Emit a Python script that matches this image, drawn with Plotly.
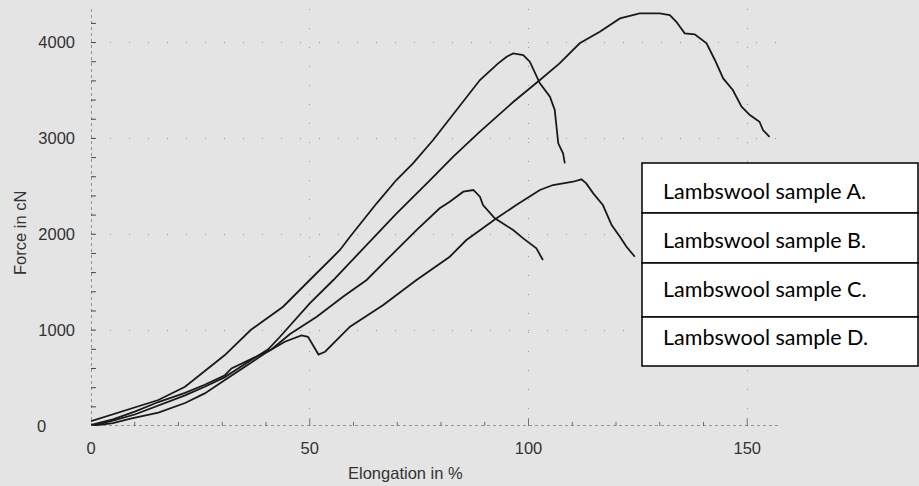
import plotly.graph_objects as go

# Force-elongation readings (elongation in %, force in cN)
a_elong = [0, 8.5, 15.4, 21.5, 25.3, 30.6, 36.5, 43.9, 50, 56.9, 59.2, 65.3, 69.8, 73.6, 78.2,
           83.5, 88.9, 93, 95, 96.5, 98.8, 100.3, 102.6, 104.9, 106, 106.4, 106.8, 107.9, 108.3]
a_force = [50, 174, 271, 410, 550, 740, 1001, 1244, 1523, 1836, 1974, 2323, 2566, 2740, 2983,
           3296, 3609, 3780, 3852, 3887, 3870, 3800, 3574, 3435, 3296, 3122, 2949, 2844, 2740]

b_elong = [0, 5, 10, 15.4, 21.5, 26, 30.6, 36.7, 40.5, 43.2, 47.8, 50, 55.4, 61.5, 65, 69.8,
           77.4, 82.8, 88.9, 96.5, 102.6, 107.1, 111.7, 116.3, 120.9, 125.4, 130, 132.3, 133.8,
           135.7, 138, 140.7, 142.6, 144.5, 146.7, 148.7, 150.6, 152.8, 153.6, 155.1]
b_force = [0, 55, 120, 215, 320, 410, 510, 690, 800, 931, 1160, 1280, 1523, 1820, 1990, 2215,
           2560, 2810, 3070, 3380, 3609, 3783, 3992, 4113, 4252, 4304, 4304, 4287, 4217,
           4096, 4086, 3992, 3818, 3626, 3505, 3331, 3244, 3174, 3087, 3017]

c_elong = [0, 5, 10, 15.4, 21.5, 26, 30.6, 32.1, 36.7, 41.3, 45.5, 47.8, 51.6, 57.6, 63, 68.3,
           74.4, 79.7, 82, 85.1, 87.4, 88.9, 89.6, 92.3, 96.5, 98.8, 101.8, 103.3]
c_force = [10, 70, 150, 250, 345, 430, 530, 600, 700, 800, 960, 1030, 1140, 1349, 1523, 1766,
           2044, 2271, 2340, 2444, 2462, 2392, 2305, 2166, 2044, 1957, 1853, 1731]

d_elong = [0, 5, 9.3, 15.4, 21.5, 26, 30.6, 35.2, 39.8, 44.3, 48.1, 49.6, 51.2, 52, 53.5, 59.2,
           66.8, 74.4, 82, 85.8, 92.7, 97.2, 102.6, 105.6, 110.2, 112.1, 113.2, 114.8, 117,
           117.8, 119, 120.9, 122.4, 124.3]
d_force = [0, 30, 80, 140, 240, 340, 480, 619, 758, 879, 945, 931, 810, 745, 775, 1036,
           1262, 1523, 1766, 1940, 2166, 2305, 2462, 2514, 2548, 2573, 2531, 2427, 2305,
           2218, 2096, 1974, 1870, 1766]

sample_labels = ["Lambswool sample A.", "Lambswool sample B.",
                 "Lambswool sample C.", "Lambswool sample D."]

x_ticks = [0, 50, 100, 150]
y_ticks = [1000, 2000, 3000, 4000]

X_RANGE = [0, 160]
Y_RANGE = [0, 4350]

W, H = 919, 486
ML, MR, MT, MB = 91, 128, 9, 60
PW, PH = W - ML - MR, H - MT - MB
BG = "#e4e4e4"
INK = "#1a1a1a"


def px_x(px):
    return (px - ML) / PW


def px_y(py):
    return (H - MB - py) / PH


fig = go.Figure()

# small cross ticks along both axes
y_minor = list(range(200, 4400, 200))
fig.add_trace(go.Scatter(
    x=[0] * len(y_minor), y=y_minor, mode="markers", hoverinfo="skip", showlegend=False,
    marker=dict(symbol="line-ew", size=7, line=dict(color="#444", width=1)),
))
x_minor = list(range(10, 160, 10))
fig.add_trace(go.Scatter(
    x=x_minor, y=[0] * len(x_minor), mode="markers", hoverinfo="skip", showlegend=False,
    marker=dict(symbol="line-ns", size=[11 if v % 50 == 0 else 6 for v in x_minor],
                line=dict(color="#444", width=1)),
))

for xs, ys, name in [(a_elong, a_force, sample_labels[0]), (b_elong, b_force, sample_labels[1]),
                     (c_elong, c_force, sample_labels[2]), (d_elong, d_force, sample_labels[3])]:
    fig.add_trace(go.Scatter(
        x=xs, y=ys, mode="lines", name=name, showlegend=False,
        line=dict(color=INK, width=1.8),
    ))

shapes = [
    # dotted axis lines
    dict(type="line", xref="x", yref="y", x0=0, x1=157, y0=0, y1=0,
         line=dict(color="#444", width=1, dash="dot")),
    dict(type="line", xref="x", yref="paper", x0=0, x1=0, y0=0, y1=1,
         line=dict(color="#444", width=1, dash="dot")),
]

# sample label boxes
row_edges = [163, 213, 263, 317, 366]
box_l, box_r = 642, 918
for i in range(4):
    shapes.append(dict(
        type="rect", xref="paper", yref="paper",
        x0=px_x(box_l), x1=px_x(box_r), y0=px_y(row_edges[i + 1]), y1=px_y(row_edges[i]),
        fillcolor="white", line=dict(color="black", width=1.5), layer="above",
    ))

annotations = []
text_y = [191, 240, 289, 337]
for lab, ty in zip(sample_labels, text_y):
    annotations.append(dict(
        text=lab, xref="paper", yref="paper", x=px_x(661), y=px_y(ty),
        xanchor="left", yanchor="middle", showarrow=False,
        font=dict(family="Lato", size=21.5, color="black"),
    ))

axis_font = dict(family="Liberation Sans, Arial", size=16.5, color="#333")
annotations += [
    dict(text="0", xref="paper", yref="y", x=px_x(41), y=0, xanchor="center",
         yanchor="middle", showarrow=False, font=axis_font),
    dict(text="Elongation in %", xref="paper", yref="paper", x=px_x(405), y=px_y(473),
         xanchor="center", yanchor="middle", showarrow=False, font=axis_font),
    dict(text="Force in cN", xref="paper", yref="paper", x=px_x(20), y=px_y(233),
         xanchor="center", yanchor="middle", textangle=-90, showarrow=False, font=axis_font),
]

fig.update_layout(
    width=W, height=H,
    margin=dict(l=ML, r=MR, t=MT, b=MB, pad=0),
    paper_bgcolor=BG, plot_bgcolor=BG,
    shapes=shapes, annotations=annotations,
    xaxis=dict(range=X_RANGE, tickvals=x_ticks, ticks="", showline=False, zeroline=False,
               showgrid=True, gridcolor="#9a9a9a", gridwidth=1, griddash="1px,18px",
               tickfont=axis_font, ticklabelstandoff=10),
    yaxis=dict(range=Y_RANGE, tickvals=y_ticks, ticks="", showline=False, zeroline=False,
               showgrid=True, gridcolor="#9a9a9a", gridwidth=1, griddash="1px,18px",
               tickfont=axis_font, ticklabelstandoff=15),
)

fig.write_html("out.html")
